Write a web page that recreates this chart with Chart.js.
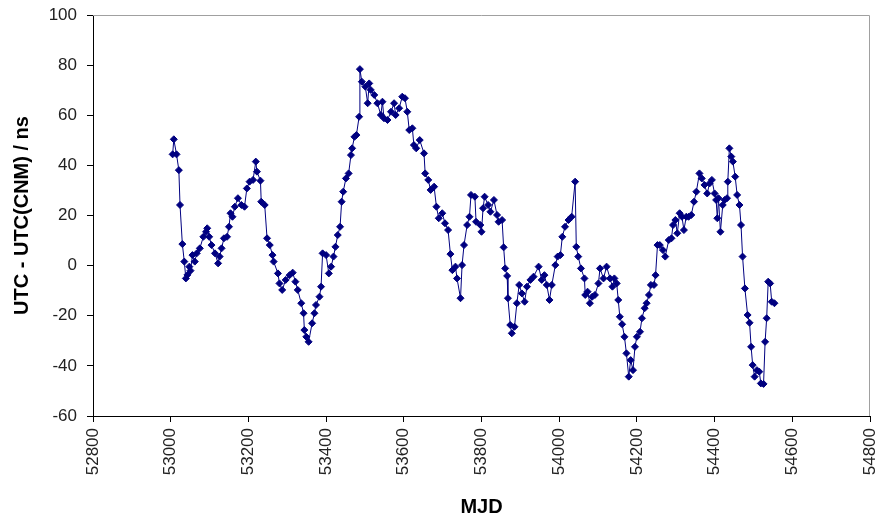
<!DOCTYPE html>
<html lang="en">
<head>
    <meta charset="UTF-8">
    <title>UTC - UTC(CNM)</title>
    <script src="https://cdn.jsdelivr.net/npm/chart.js"></script>
    <style>
        html, body { margin: 0; padding: 0; background: #fff; }
        #wrap { position: relative; width: 875px; height: 520px; }
    </style>
</head>
<body>
    <div id="wrap"><canvas id="cnmChart"></canvas></div>

    <script>
        // MJD of each comparison point
        const mjd = [
            53005, 53008, 53015, 53021, 53024, 53030, 53035, 53039, 53043, 53048,
            53051, 53056, 53062, 53067, 53075, 53084, 53091, 53094, 53099, 53105,
            53114, 53122, 53126, 53131, 53137, 53145, 53150, 53154, 53159, 53165,
            53173, 53182, 53190, 53196, 53203, 53212, 53219, 53222, 53231, 53233,
            53242, 53248, 53255, 53262, 53265, 53276, 53280, 53287, 53296, 53306,
            53314, 53321, 53327, 53336, 53342, 53344, 53349, 53355, 53364, 53370,
            53374, 53383, 53387, 53391, 53400, 53407, 53413, 53419, 53424, 53430,
            53436, 53440, 53444, 53451, 53458, 53464, 53467, 53473, 53478, 53485,
            53487, 53492, 53501, 53507, 53511, 53515, 53524, 53532, 53541, 53545,
            53549, 53558, 53567, 53575, 53579, 53588, 53596, 53603, 53609, 53614,
            53622, 53626, 53632, 53641, 53652, 53655, 53663, 53669, 53678, 53684,
            53690, 53699, 53706, 53714, 53720, 53725, 53733, 53737, 53746, 53750,
            53755, 53763, 53769, 53773, 53783, 53786, 53797, 53800, 53804, 53808,
            53817, 53823, 53832, 53840, 53844, 53853, 53857, 53861, 53866, 53868,
            53874, 53878, 53885, 53891, 53897, 53904, 53911, 53917, 53926, 53934,
            53947, 53955, 53962, 53968, 53975, 53981, 53990, 53996, 54003, 54008,
            54015, 54024, 54032, 54041, 54044, 54049, 54056, 54065, 54067, 54073,
            54079, 54085, 54092, 54101, 54105, 54114, 54122, 54131, 54137, 54142,
            54148, 54152, 54156, 54162, 54168, 54173, 54179, 54184, 54190, 54195,
            54200, 54208, 54213, 54220, 54225, 54231, 54236, 54244, 54248, 54253,
            54259, 54267, 54273, 54282, 54289, 54293, 54299, 54304, 54310, 54316,
            54321, 54327, 54333, 54340, 54347, 54353, 54361, 54367, 54374, 54381,
            54387, 54393, 54400, 54404, 54407, 54410, 54415, 54421, 54426, 54432,
            54434, 54438, 54443, 54447, 54453, 54458, 54464, 54468, 54472, 54478,
            54485, 54490, 54494, 54498, 54503, 54509, 54515, 54519, 54526, 54530,
            54534, 54538, 54543, 54547, 54554
        ];

        // UTC - UTC(CNM) in ns
        const offsetNs = [
            44.4, 50.4, 44.4, 38.1, 24.2, 8.6, 1.6, -5.1, -3.7, -0.4,
            -2.0, 4.2, 1.6, 4.9, 6.9, 11.5, 13.5, 14.9, 11.5, 8.2,
            4.9, 0.9, 3.6, 6.9, 10.9, 11.5, 15.5, 20.9, 19.5, 23.5,
            26.9, 24.2, 23.5, 30.8, 33.5, 34.2, 41.5, 37.5, 33.9, 25.5,
            24.2, 10.9, 8.2, 4.2, 1.6, -3.1, -7.1, -9.7, -5.7, -3.8,
            -2.8, -6.4, -9.7, -15.0, -19.0, -25.7, -28.4, -30.4, -23.0, -19.0,
            -15.7, -12.4, -8.4, 4.9, 4.2, -3.1, -0.4, 3.6, 7.5, 12.2,
            15.5, 25.5, 29.5, 34.8, 36.8, 44.1, 46.8, 51.4, 52.1, 59.4,
            78.4, 73.4, 71.4, 64.8, 72.7, 70.1, 68.1, 64.8, 60.1, 65.4,
            58.8, 58.1, 61.4, 64.8, 60.1, 62.8, 67.4, 66.8, 61.4, 54.1,
            54.8, 48.1, 46.8, 50.1, 44.8, 36.8, 34.2, 30.2, 31.5, 23.5,
            18.9, 20.9, 16.9, 14.2, 4.6, -1.8, -0.4, -5.1, -13.0, 0.2,
            8.2, 16.2, 19.5, 28.2, 27.5, 17.5, 16.2, 13.5, 22.9, 27.5,
            24.2, 21.5, 26.2, 20.2, 17.5, 18.2, 7.3, -1.1, -4.1, -13.0,
            -23.7, -27.0, -24.4, -15.0, -7.7, -11.1, -14.4, -8.4, -5.7, -4.4,
            -0.4, -5.7, -3.8, -7.7, -13.7, -7.7, 0.2, 3.6, 4.2, 11.5,
            15.5, 18.2, 19.5, 33.5, 7.5, 3.6, -1.1, -5.1, -11.7, -10.4,
            -15.0, -12.4, -11.7, -7.1, -1.1, -5.1, -0.4, -5.1, -8.4, -5.1,
            -7.1, -13.7, -20.4, -23.4, -28.4, -35.0, -44.3, -37.7, -41.7, -32.4,
            -28.4, -26.4, -21.0, -17.0, -15.0, -11.7, -7.7, -7.7, -3.8, 8.2,
            8.2, 6.2, 3.6, 10.2, 10.9, 16.2, 18.2, 12.9, 20.9, 19.5,
            14.2, 19.5, 19.5, 20.2, 25.5, 29.5, 36.8, 34.8, 32.2, 28.8,
            32.8, 34.2, 28.8, 26.2, 18.9, 26.9, 13.5, 24.2, 26.2, 26.9,
            33.5, 46.8, 43.5, 41.5, 35.5, 28.2, 24.2, 16.2, 3.6, -9.1,
            -19.7, -22.8, -32.4, -39.7, -44.3, -41.7, -42.3, -47.0, -47.2, -30.4,
            -21.0, -6.4, -7.1, -14.4, -15.0
        ];

        // axis ticks
        const xTicks = [52800, 53000, 53200, 53400, 53600, 53800, 54000, 54200, 54400, 54600, 54800];
        const yTicks = [-60, -40, -20, 0, 20, 40, 60, 80, 100];

        const points = mjd.map((m, i) => ({ x: m, y: offsetNs[i] }));

        // gray frame on top and right of the plot area, like the spreadsheet chart
        const frame = {
            id: 'frame',
            afterDraw(chart) {
                const { ctx, chartArea: a } = chart;
                ctx.save();
                ctx.strokeStyle = '#a0a0a0';
                ctx.lineWidth = 1;
                ctx.beginPath();
                ctx.moveTo(a.left, a.top + 0.5);
                ctx.lineTo(a.right - 0.5, a.top + 0.5);
                ctx.lineTo(a.right - 0.5, a.bottom);
                ctx.stroke();
                ctx.restore();
            }
        };

        const tickFont = { family: '"Liberation Sans", Arial, sans-serif', size: 17 };
        const titleFont = { family: '"Liberation Sans", Arial, sans-serif', size: 20, weight: 'bold' };

        new Chart(document.getElementById('cnmChart'), {
            type: 'scatter',
            data: {
                datasets: [{
                    data: points,
                    showLine: true,
                    borderColor: '#000080',
                    borderWidth: 1,
                    backgroundColor: '#000080',
                    pointStyle: 'rectRot',
                    pointRadius: 3.5,
                    pointBorderWidth: 1,
                    pointBorderColor: '#000080',
                    pointBackgroundColor: '#000080'
                }]
            },
            options: {
                responsive: true,
                maintainAspectRatio: false,
                animation: false,
                layout: { padding: { top: 15, right: 2, left: 0, bottom: 0 } },
                plugins: {
                    legend: { display: false },
                    tooltip: { enabled: false }
                },
                scales: {
                    x: {
                        type: 'linear',
                        min: 52800,
                        max: 54800,
                        afterBuildTicks: s => { s.ticks = xTicks.map(v => ({ value: v })); },
                        afterFit: s => { s.height = 104; s.paddingLeft = 0; s.paddingRight = 0; },
                        ticks: {
                            minRotation: 90,
                            maxRotation: 90,
                            padding: 6,
                            color: '#222',
                            font: tickFont,
                            callback: v => String(v)
                        },
                        grid: { drawOnChartArea: false, drawTicks: true, tickLength: 6, color: '#000' },
                        border: { display: true, color: '#000', width: 1 },
                        title: { display: true, text: 'MJD', color: '#000', font: titleFont, padding: { top: 0, bottom: 1 } }
                    },
                    y: {
                        min: -60,
                        max: 100,
                        afterBuildTicks: s => { s.ticks = yTicks.map(v => ({ value: v })); },
                        afterFit: s => { s.width = 93; s.paddingTop = 0; s.paddingBottom = 0; },
                        ticks: {
                            padding: 10,
                            color: '#222',
                            font: tickFont,
                            callback: v => String(v)
                        },
                        grid: { drawOnChartArea: false, drawTicks: true, tickLength: 6, color: '#000' },
                        border: { display: true, color: '#000', width: 1 },
                        title: { display: true, text: 'UTC - UTC(CNM) / ns', color: '#000', font: titleFont, padding: { top: 10, bottom: 0 } }
                    }
                }
            },
            plugins: [frame]
        });
    </script>
</body>
</html>
